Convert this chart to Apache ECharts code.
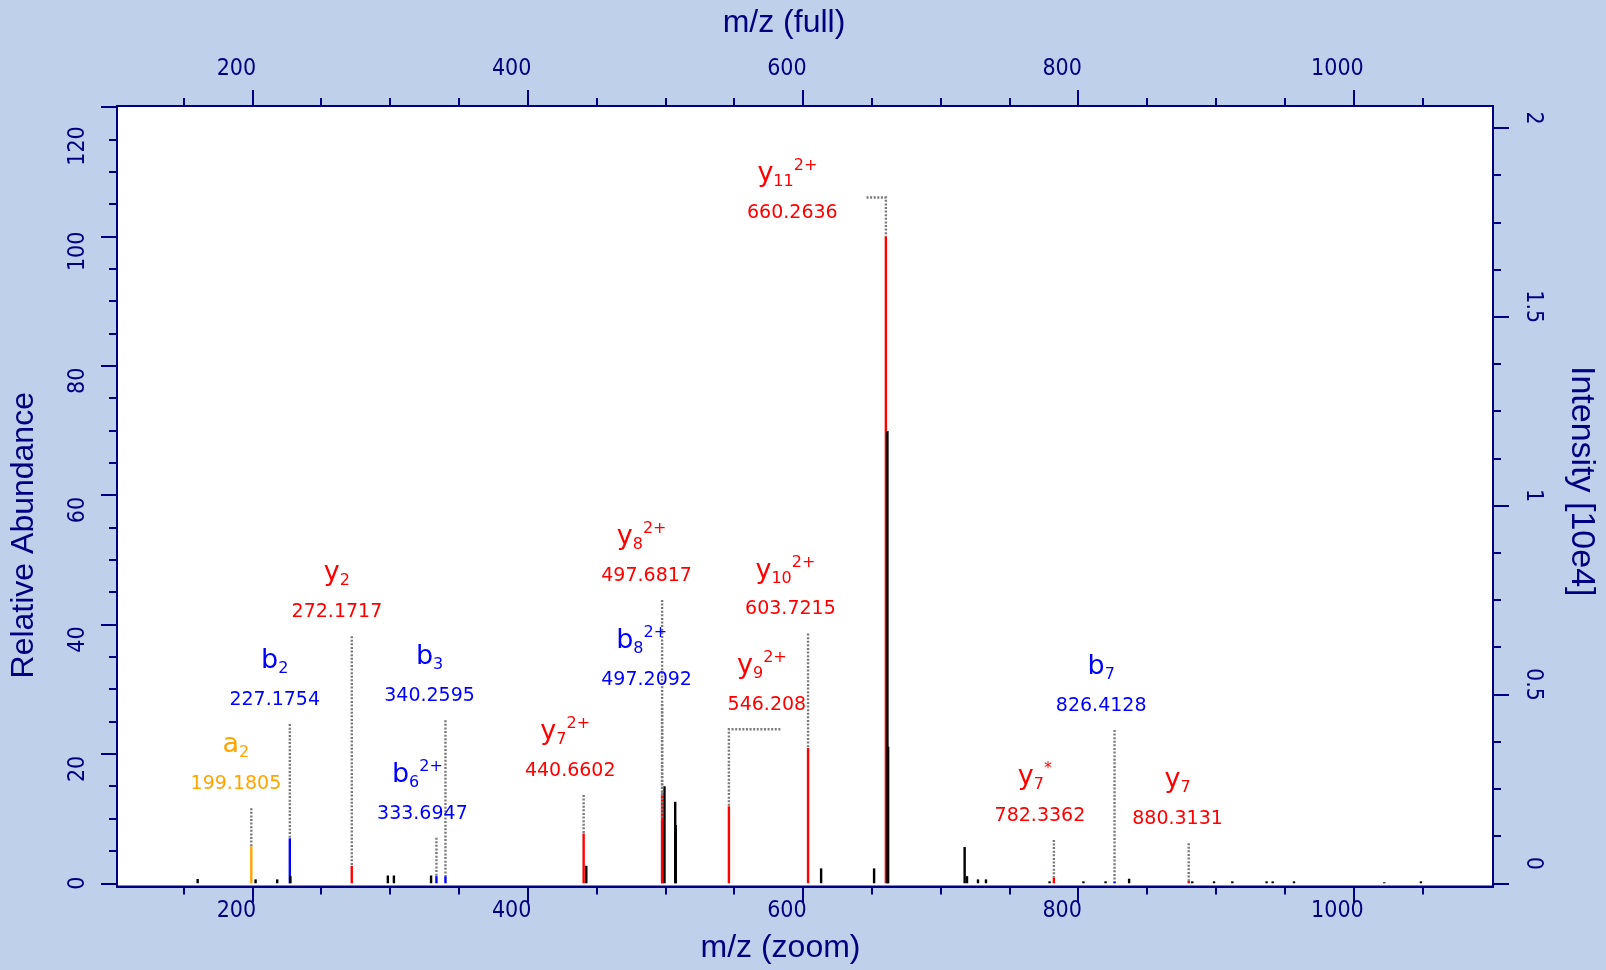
<!DOCTYPE html>
<html><head><meta charset="utf-8">
<script src="https://cdn.jsdelivr.net/npm/echarts@6/dist/echarts.min.js"></script>
<style>html,body{margin:0;padding:0;background:#bfd0ea}#c{width:1606px;height:970px}</style>
</head><body><div id="c"></div>
<script>
// ---------- data ----------
// unannotated (black) peaks: m/z and relative abundance
const peakMz  = [160.2, 202.3, 218.0, 227.6, 298.4, 302.8, 329.8, 442.6, 499.4, 507.2, 507.6, 613.2, 651.7, 661.4, 661.9, 717.5, 719.2, 727.2, 733.0, 779.2, 803.8, 819.9, 837.0, 882.9, 898.7, 912.0, 936.9, 941.3, 956.8, 1022.4, 1049.0];
const peakRel = [0.66, 0.6, 0.6, 1.1, 1.2, 1.2, 1.2, 2.7, 15.0, 12.6, 9.0, 2.3, 2.3, 69.9, 21.1, 5.6, 1.1, 0.6, 0.6, 0.3, 0.3, 0.3, 0.7, 0.3, 0.3, 0.3, 0.3, 0.3, 0.3, 0.15, 0.3];

// annotated fragment ions (peak position, label text, peak height)
const annType  = ['a','b','y','b','b','y','b','y','y','y','y','y','b','y'];
const annNum   = ['2','2','2','3','6','7','8','8','9','10','11','7','7','7'];
const annSup   = ['','','','','2+','2+','2+','2+','2+','2+','2+','*','',''];
const annMz    = [199.1805, 227.1754, 272.1717, 340.2595, 333.6947, 440.6602, 497.6817, 497.6817, 546.208, 603.7215, 660.2636, 782.3362, 826.4128, 880.3131];
const annText  = ['199.1805','227.1754','272.1717','340.2595','333.6947','440.6602','497.2092','497.6817','546.208','603.7215','660.2636','782.3362','826.4128','880.3131'];
const annRel   = [5.7, 6.95, 2.7, 1.1, 1.1, 7.7, 9.8, 13.9, 11.9, 20.9, 100, 0.9, 0.3, 0.4];
// label layout (data units)
const annLineTop    = [11.6, 24.6, 38.2, 25.2, 7.05, 13.65, 27.7, 43.8, 23.8, 38.6, 106.0, 6.7, 23.7, 6.2];
const annHookMz     = [null, null, null, null, null, null, null, null, 583.6, null, 646.2, null, null, null];
const annLabelMz    = [188.0, 216.2, 261.4, 328.7, 323.5, 430.9, 486.4, 486.4, 573.8, 590.9, 592.3, 772.2, 816.7, 872.2];
const annLabelLevel = [11.6, 24.6, 38.2, 25.2, 7.05, 13.65, 27.7, 43.8, 23.8, 38.6, 99.9, 6.7, 23.7, 6.2];

// axes
const xMajor = [200, 400, 600, 800, 1000];
const xMinor = [150, 250, 300, 350, 450, 500, 550, 650, 700, 750, 850, 900, 950, 1050];
const yMajor = [0, 20, 40, 60, 80, 100, 120];
const yMinor = [5, 10, 15, 25, 30, 35, 45, 50, 55, 65, 70, 75, 85, 90, 95, 105, 110, 115];
const rMajor = [0, 0.5, 1, 1.5, 2];
const rMinor = [0.125, 0.25, 0.375, 0.625, 0.75, 0.875, 1.125, 1.25, 1.375, 1.625, 1.75, 1.875];
const X_MIN = 101.6, X_MAX = 1101.4;
const Y_MIN = -0.5, Y_MAX = 120.15;
const basePeakIntensity = 1.713; // in 10e4

// ---------- chart ----------
const NAVY = '#000080';
const TICKFONT = "'Liberation Sans Narrow', 'DejaVu Sans Condensed', 'Liberation Sans', sans-serif";
const TITLEFONT = "'Liberation Sans', Arial, sans-serif";
const LABFONT = "'DejaVu Sans', sans-serif";
const typeColor = {a: '#ffa500', b: '#0000ff', y: '#ff0000'};

function barSeries(name, data, color) {
  return {
    type: 'custom', name, xAxisIndex: 0, yAxisIndex: 0, silent: true, z: 2,
    data,
    renderItem(params, api) {
      const x = api.value(0), h = api.value(1);
      const p0 = api.coord([x, 0]), p1 = api.coord([x, h]);
      return {type: 'rect', shape: {x: p0[0] - 1.2, y: p1[1], width: 2.4, height: Math.max(p0[1] - p1[1], 1)}, style: {fill: color}};
    }
  };
}
const idx = t => annType.map((v, i) => v === t ? i : -1).filter(i => i >= 0);
const colored = ['a', 'b', 'y'].map(t => barSeries('ions-' + t, idx(t).map(i => [annMz[i], annRel[i]]), typeColor[t]));

const lineSeries = {
  type: 'custom', xAxisIndex: 0, yAxisIndex: 0, silent: true, z: 3,
  data: annMz.map((m, i) => [m, annLineTop[i]]),
  renderItem(params, api) {
    const i = params.dataIndex;
    const pts = [];
    if (annHookMz[i] != null) pts.push(api.coord([annHookMz[i], annLineTop[i]]));
    pts.push(api.coord([annMz[i], annLineTop[i]]));
    pts.push(api.coord([annMz[i], annRel[i]]));
    return {type: 'polyline', shape: {points: pts}, style: {stroke: '#7a7a7a', lineWidth: 2.4, lineDash: [2, 1.6], fill: null}};
  }
};

const labelSeries = {
  type: 'custom', xAxisIndex: 0, yAxisIndex: 0, silent: true, z: 4,
  data: annLabelMz.map((m, i) => [m, annLabelLevel[i]]),
  renderItem(params, api) {
    const i = params.dataIndex;
    const p = api.coord([annLabelMz[i], annLabelLevel[i]]);
    const c = typeColor[annType[i]];
    const nm = '{L|' + annType[i] + '}{S|' + annNum[i] + '}' + (annSup[i] ? '{P|' + annSup[i] + '}' : '');
    return {type: 'group', children: [
      {type: 'text', style: {text: annText[i], x: p[0], y: p[1] - 24, fill: c, fontSize: 19, fontFamily: LABFONT, align: 'center', verticalAlign: 'middle'}},
      {type: 'text', style: {text: nm, x: p[0] + (annSup[i] ? -5 : 0), y: p[1] - 63, fill: c, fontSize: 27, fontFamily: LABFONT, align: 'center', verticalAlign: 'middle',
        rich: {
          L: {fontSize: 27, lineHeight: 32, fontFamily: LABFONT, fill: c},
          S: {fontSize: 16, lineHeight: 22, verticalAlign: 'bottom', fontFamily: LABFONT, fill: c},
          P: {fontSize: 16, lineHeight: 16, verticalAlign: 'top', fontFamily: LABFONT, fill: c}
        }}}
    ]};
  }
};

const tickStyle = {color: NAVY, width: 2};
const xBase = {type: 'value', min: X_MIN, max: X_MAX, splitLine: {show: false}, axisLine: {onZero: false, lineStyle: {color: NAVY, width: 2}}};
const xLabel = {color: NAVY, fontFamily: TICKFONT, fontSize: 23, lineHeight: 23, padding: [0, 32, 0, 0], customValues: xMajor, formatter: v => String(v)};
const titleStyle = {color: NAVY, fontFamily: TITLEFONT, fontSize: 32};

const rMin = Y_MIN * basePeakIntensity / 100, rMax = Y_MAX * basePeakIntensity / 100;

const option = {
  backgroundColor: '#bfd0ea',
  animation: false,
  grid: {left: 115, right: 109, top: 106, bottom: 83.5, show: true, backgroundColor: '#ffffff', borderColor: NAVY, borderWidth: 2},
  xAxis: [
    Object.assign({}, xBase, {position: 'bottom', name: 'm/z (zoom)', nameLocation: 'middle', nameGap: 46,
      nameTextStyle: Object.assign({}, titleStyle, {padding: [0, 49, 0, 0]}),
      axisTick: {customValues: xMajor, length: 16, lineStyle: tickStyle},
      axisLabel: Object.assign({}, xLabel, {margin: 13})}),
    Object.assign({}, xBase, {position: 'bottom', axisLine: {show: false, onZero: false},
      axisTick: {customValues: xMinor, length: 8, lineStyle: tickStyle}, axisLabel: {show: false}}),
    Object.assign({}, xBase, {position: 'top', name: 'm/z (full)', nameLocation: 'middle', nameGap: 67,
      nameTextStyle: Object.assign({}, titleStyle, {padding: [0, 42, 0, 0]}),
      axisTick: {customValues: xMajor, length: 16, lineStyle: tickStyle},
      axisLabel: Object.assign({}, xLabel, {margin: 25})}),
    Object.assign({}, xBase, {position: 'top', axisLine: {show: false, onZero: false},
      axisTick: {customValues: xMinor, length: 8, lineStyle: tickStyle}, axisLabel: {show: false}})
  ],
  yAxis: [
    {type: 'value', position: 'left', min: Y_MIN, max: Y_MAX, splitLine: {show: false},
      axisLine: {onZero: false, lineStyle: {color: NAVY, width: 2}},
      name: 'Relative Abundance', nameLocation: 'middle', nameRotate: 90, nameGap: 77,
      nameTextStyle: Object.assign({}, titleStyle, {padding: [0, 78, 0, 0]}),
      axisTick: {customValues: yMajor, length: 16, lineStyle: tickStyle},
      axisLabel: {customValues: yMajor, rotate: 90, margin: 27, color: NAVY, fontFamily: TICKFONT, fontSize: 23, lineHeight: 23,
        formatter: v => v === 0 ? '{z|0}' : (v === 120 ? '{t|120}' : '{m|' + v + '}'),
        rich: {
          z: {color: NAVY, fontFamily: TICKFONT, fontSize: 23, lineHeight: 23, padding: [0, 0, 0, 0]},
          m: {color: NAVY, fontFamily: TICKFONT, fontSize: 23, lineHeight: 23, padding: [0, 30, 0, 0]},
          t: {color: NAVY, fontFamily: TICKFONT, fontSize: 23, lineHeight: 23, padding: [0, 78, 0, 0]}
        }}},
    {type: 'value', position: 'left', min: Y_MIN, max: Y_MAX, splitLine: {show: false}, axisLine: {show: false, onZero: false},
      axisTick: {customValues: yMinor, length: 8, lineStyle: tickStyle}, axisLabel: {show: false}},
    {type: 'value', position: 'right', min: rMin, max: rMax, splitLine: {show: false},
      axisLine: {onZero: false, lineStyle: {color: NAVY, width: 2}},
      name: 'Intensity [10e4]', nameLocation: 'middle', nameRotate: -90, nameGap: 71,
      nameTextStyle: Object.assign({}, titleStyle, {fontSize: 34, padding: [0, 30, 0, 0]}),
      axisTick: {customValues: rMajor, length: 16, lineStyle: tickStyle},
      axisLabel: {customValues: rMajor, rotate: -90, margin: 28, color: NAVY, fontFamily: TICKFONT, fontSize: 23, lineHeight: 23,
        formatter: v => v === 0 ? '{z|0}' : '{m|' + v + '}',
        rich: {
          z: {color: NAVY, fontFamily: TICKFONT, fontSize: 23, lineHeight: 23, padding: [0, 40, 0, 0]},
          m: {color: NAVY, fontFamily: TICKFONT, fontSize: 23, lineHeight: 23, padding: [0, 20, 0, 0]}
        }}},
    {type: 'value', position: 'right', min: rMin, max: rMax, splitLine: {show: false}, axisLine: {show: false, onZero: false},
      axisTick: {customValues: rMinor, length: 8, lineStyle: tickStyle}, axisLabel: {show: false}}
  ],
  series: [].concat(colored, [barSeries('peaks', peakMz.map((m, i) => [m, peakRel[i]]), '#000000'), lineSeries, labelSeries])
};

const chart = echarts.init(document.getElementById('c'), null, {renderer: 'canvas'});
chart.setOption(option);
</script>
</body></html>
